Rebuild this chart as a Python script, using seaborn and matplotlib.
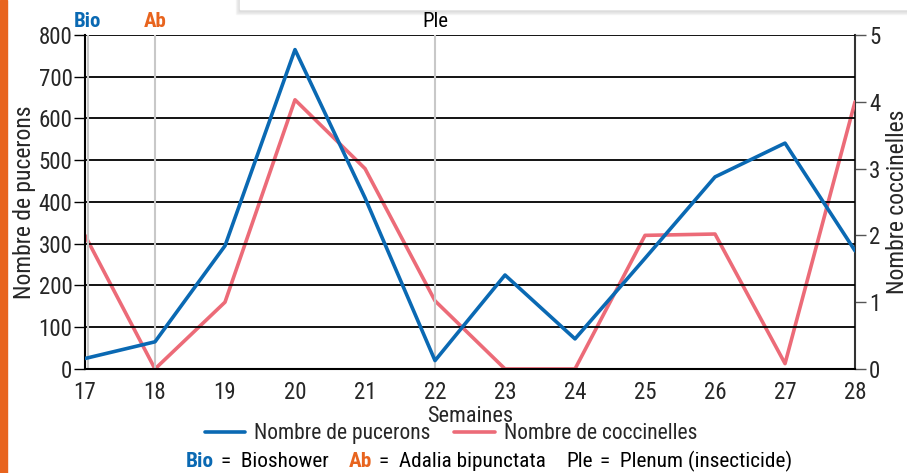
import seaborn as sns
import matplotlib.pyplot as plt
import pandas as pd
from matplotlib.lines import Line2D
from matplotlib.patches import Rectangle

# Data
weeks = [17, 18, 19, 20, 21, 22, 23, 24, 25, 26, 27, 28]
pucerons = [25, 65, 295, 765, 410, 20, 225, 72, 265, 460, 541, 283]
coccinelles = [2.0, 0.0, 1.0, 4.03, 3.0, 1.02, 0.0, 0.0, 2.0, 2.02, 0.08, 4.0]
treat_weeks = [17.04, 18, 22]
treat_codes = ['Bio', 'Ab', 'Ple']
treat_names = ['Bioshower', 'Adalia bipunctata', 'Plenum (insecticide)']

BLUE = '#0a69b3'
PINK = '#ec6b78'
ORANGE = '#e8641e'
treat_colors = [BLUE, ORANGE, 'black']

df = pd.DataFrame({'Semaine': weeks, 'Pucerons': pucerons, 'Coccinelles': coccinelles})

sns.set_style('white')
plt.rcParams['font.family'] = ['Roboto Condensed', 'Liberation Sans', 'DejaVu Sans']

fig = plt.figure(figsize=(9.07, 4.73), dpi=100)
ax = fig.add_axes([0.0937, 0.22, 0.849, 0.706])
ax2 = ax.twinx()

# horizontal grid and treatment markers
for v in range(100, 801, 100):
    ax.axhline(v, color='black', lw=1.3, zorder=1)
for w, code, c in zip(treat_weeks, treat_codes, treat_colors):
    ax.axvline(w, color='#c8c8c8', lw=1.5, zorder=1)
    ax.text(w, 810, code, ha='center', va='bottom', fontsize=15, color=c,
            fontweight='bold' if code != 'Ple' else 'normal')

sns.lineplot(data=df, x='Semaine', y='Pucerons', ax=ax, color=BLUE, lw=2.6, zorder=3)
sns.lineplot(data=df, x='Semaine', y='Coccinelles', ax=ax2, color=PINK, lw=2.6, zorder=3)

ax.set_xlim(17, 28)
ax.set_ylim(0, 800)
ax2.set_ylim(0, 5)
ax.set_xticks(weeks)
ax.set_yticks(range(0, 801, 100))
ax2.set_yticks(range(0, 6))

ax.set_xlabel('Semaines', fontsize=16, labelpad=1)
ax.set_ylabel('Nombre de pucerons', fontsize=17, labelpad=2)
ax2.set_ylabel('Nombre coccinelles', fontsize=17, labelpad=4)

for a in (ax, ax2):
    for s in a.spines.values():
        s.set_visible(False)
ax.spines['left'].set_visible(True)
ax.spines['left'].set_color('black')
ax.spines['left'].set_linewidth(1.5)
ax.spines['bottom'].set_visible(True)
ax.spines['bottom'].set_color('black')
ax.spines['bottom'].set_linewidth(1.5)
ax2.spines['right'].set_visible(True)
ax2.spines['right'].set_color('#333333')
ax2.spines['right'].set_linewidth(1.5)

ax.tick_params(axis='x', length=9, width=1.5, color='#555555', labelsize=16.5, pad=0, direction='out')
ax.tick_params(axis='y', length=8, width=1, color='black', labelsize=16.5, pad=1, left=True)
ax2.tick_params(axis='y', length=8, width=1, color='#555555', labelsize=16.5, pad=2, right=True)
ax.grid(False)
ax2.grid(False)
ax.set_zorder(ax2.get_zorder() + 1)
ax.patch.set_visible(False)

handles = [Line2D([], [], color=BLUE, lw=2.6), Line2D([], [], color=PINK, lw=2.6)]
fig.legend(handles, ['Nombre de pucerons', 'Nombre de coccinelles'], loc='center',
           bbox_to_anchor=(0.497, 0.083), ncol=2, frameon=False, fontsize=15.5,
           handlelength=1.9, columnspacing=1.1, handletextpad=0.4)

# explanation line, pieces laid out one after another
renderer = fig.canvas.get_renderer()
x = 186 / 907
for code, name, c in zip(treat_codes, treat_names, treat_colors):
    t = fig.text(x, 0.012, code, color=c, fontsize=15.3,
                 fontweight='bold' if code != 'Ple' else 'normal', va='baseline')
    bb = t.get_window_extent(renderer)
    x = (bb.x1 + 7) / 907
    t = fig.text(x, 0.012, '=  ' + name, color='black', fontsize=15.3, va='baseline')
    bb = t.get_window_extent(renderer)
    x = (bb.x1 + 20) / 907

# decorative frame pieces
fig.patches.append(Rectangle((0, 0), 7 / 907, 1, transform=fig.transFigure,
                             color=ORANGE, zorder=0))
for i, a in enumerate([0.05, 0.05, 0.06, 0.08]):
    fig.patches.append(Rectangle(((236 + i) / 907, (473 - 14 + i) / 473), 1, 0.05,
                                 transform=fig.transFigure, color='#888888', alpha=a, zorder=0))
fig.patches.append(Rectangle((240 / 907, (473 - 9) / 473), 1, 0.05,
                             transform=fig.transFigure, color='white', zorder=0))

fig.savefig('out.png', dpi=100)
